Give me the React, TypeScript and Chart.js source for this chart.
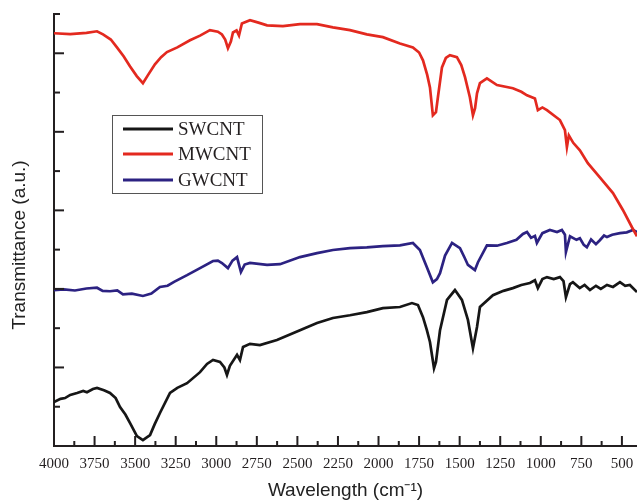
import React, { useEffect, useRef } from 'react';
import { Chart, registerables } from 'chart.js';

Chart.register(...registerables);

const xTickValues = [4000, 3750, 3500, 3250, 3000, 2750, 2500, 2250, 2000, 1750, 1500, 1250, 1000, 750, 500];
const xTickLabels = ['4000', '3750', '3500', '3250', '3000', '2750', '2500', '2250', '2000', '1750', '1500', '1250', '1000', '750', '500'];
const seriesLabels = ['SWCNT', 'MWCNT', 'GWCNT'];

const swcntWave = [4000, 3960, 3932, 3900, 3858, 3820, 3797, 3760, 3735, 3692, 3655, 3620, 3593, 3560, 3532, 3489, 3452, 3408, 3380, 3347, 3285, 3240, 3180, 3100, 3057, 3020, 2977, 2950, 2934, 2916, 2872, 2854, 2835, 2792, 2731, 2626, 2484, 2379, 2281, 2176, 2072, 1973, 1868, 1794, 1757, 1726, 1702, 1683, 1658, 1646, 1621, 1578, 1529, 1486, 1449, 1418, 1393, 1375, 1295, 1230, 1172, 1120, 1067, 1036, 1018, 990, 962, 920, 882, 860, 845, 820, 802, 760, 730, 697, 660, 630, 592, 555, 512, 480, 451, 407];
const swcntT = [1.12, 1.2, 1.22, 1.3, 1.35, 1.4, 1.37, 1.45, 1.48, 1.42, 1.35, 1.22, 0.99, 0.8, 0.59, 0.25, 0.15, 0.28, 0.55, 0.84, 1.35, 1.48, 1.6, 1.88, 2.09, 2.19, 2.14, 2.0, 1.81, 2.04, 2.32, 2.19, 2.52, 2.6, 2.57, 2.7, 2.95, 3.13, 3.26, 3.33, 3.41, 3.51, 3.54, 3.64, 3.59, 3.28, 2.95, 2.65, 1.98, 2.14, 2.95, 3.72, 3.97, 3.72, 3.21, 2.49, 3.03, 3.54, 3.84, 3.95, 4.02, 4.1, 4.15, 4.22, 4.02, 4.25, 4.3, 4.25, 4.3, 4.2, 3.79, 4.12, 4.17, 4.02, 4.1, 3.97, 4.08, 4.0, 4.1, 4.05, 4.17, 4.08, 4.1, 3.92];

const mwcntWave = [4000, 3900, 3800, 3735, 3698, 3650, 3612, 3570, 3532, 3490, 3452, 3420, 3378, 3340, 3304, 3240, 3162, 3100, 3039, 2990, 2965, 2945, 2928, 2910, 2897, 2875, 2860, 2842, 2792, 2740, 2687, 2589, 2484, 2379, 2281, 2176, 2072, 1973, 1868, 1788, 1750, 1726, 1700, 1683, 1665, 1646, 1634, 1609, 1585, 1560, 1517, 1490, 1467, 1437, 1418, 1405, 1393, 1375, 1332, 1270, 1172, 1120, 1085, 1036, 1018, 990, 962, 882, 851, 839, 827, 800, 759, 710, 636, 555, 494, 438, 407];
const mwcntT = [10.51, 10.49, 10.52, 10.56, 10.48, 10.35, 10.15, 9.92, 9.67, 9.42, 9.24, 9.45, 9.72, 9.9, 10.03, 10.15, 10.33, 10.45, 10.59, 10.55, 10.48, 10.35, 10.13, 10.3, 10.53, 10.58, 10.45, 10.76, 10.84, 10.78, 10.71, 10.69, 10.74, 10.74, 10.66, 10.59, 10.48, 10.41, 10.25, 10.15, 10.02, 9.82, 9.45, 9.13, 8.42, 8.5, 8.88, 9.64, 9.88, 9.95, 9.9, 9.7, 9.39, 8.88, 8.42, 8.6, 8.98, 9.24, 9.36, 9.19, 9.11, 9.02, 8.93, 8.85, 8.55, 8.62, 8.55, 8.3, 8.04, 7.61, 7.91, 7.72, 7.53, 7.2, 6.84, 6.44, 6.01, 5.57, 5.34];

const gwcntWave = [4000, 3940, 3871, 3800, 3735, 3700, 3655, 3610, 3575, 3520, 3452, 3400, 3347, 3300, 3260, 3180, 3100, 3020, 2990, 2965, 2928, 2900, 2872, 2848, 2825, 2792, 2687, 2607, 2484, 2379, 2281, 2176, 2072, 1973, 1868, 1788, 1745, 1702, 1665, 1640, 1621, 1590, 1547, 1498, 1470, 1449, 1406, 1387, 1332, 1270, 1209, 1150, 1110, 1085, 1060, 1036, 1024, 990, 944, 900, 870, 851, 845, 820, 780, 759, 735, 716, 690, 660, 636, 610, 592, 560, 512, 470, 432, 407];
const gwcntT = [3.97, 3.99, 3.96, 4.01, 4.03, 3.95, 3.94, 3.96, 3.86, 3.88, 3.82, 3.88, 4.05, 4.08, 4.18, 4.35, 4.53, 4.71, 4.72, 4.66, 4.53, 4.72, 4.81, 4.43, 4.62, 4.66, 4.61, 4.63, 4.81, 4.91, 4.99, 5.04, 5.06, 5.09, 5.11, 5.17, 4.99, 4.55, 4.17, 4.25, 4.4, 4.85, 5.17, 5.04, 4.8, 4.61, 4.48, 4.68, 5.11, 5.1, 5.17, 5.25, 5.4, 5.45, 5.3, 5.35, 5.17, 5.42, 5.5, 5.45, 5.5, 5.38, 4.94, 5.34, 5.25, 5.29, 5.12, 5.06, 5.26, 5.14, 5.24, 5.36, 5.32, 5.38, 5.42, 5.44, 5.5, 5.45];

const seriesColors = ['#161616', '#e3291f', '#2c2282'];
const axisColor = '#231f20';

const toPoints = (w: number[], t: number[]) => w.map((x, i) => ({ x, y: t[i] }));

const decorPlugin = {
  id: 'decor',
  afterDraw(chart: any) {
    const { ctx, scales } = chart;
    const x = scales.x;
    const y = scales.y;
    const bottom = y.getPixelForValue(0);
    const left = x.left;
    ctx.save();
    ctx.strokeStyle = axisColor;
    ctx.lineWidth = 2;
    xTickValues.forEach((v) => {
      const px = x.getPixelForValue(v);
      ctx.beginPath();
      ctx.moveTo(px, bottom);
      ctx.lineTo(px, bottom - 10);
      ctx.stroke();
      const mid = v - 125;
      if (mid >= x.min) {
        const pm = x.getPixelForValue(mid);
        ctx.beginPath();
        ctx.moveTo(pm, bottom);
        ctx.lineTo(pm, bottom - 5);
        ctx.stroke();
      }
    });
    for (let v = 1; v <= 11; v++) {
      const py = y.getPixelForValue(v);
      const len = v % 2 === 0 ? 10 : 6;
      ctx.beginPath();
      ctx.moveTo(left, py);
      ctx.lineTo(left + len, py);
      ctx.stroke();
    }
    const bx = 112, by = 115, bw = 150, bh = 78;
    ctx.lineWidth = 1;
    ctx.strokeStyle = '#555';
    ctx.strokeRect(bx + 0.5, by + 0.5, bw, bh);
    const rows = [129, 154, 180];
    ctx.font = '19px "Liberation Serif", "Times New Roman", serif';
    ctx.textBaseline = 'middle';
    ctx.textAlign = 'left';
    chart.data.datasets.forEach((ds: any, i: number) => {
      ctx.strokeStyle = ds.borderColor;
      ctx.lineWidth = 3;
      ctx.beginPath();
      ctx.moveTo(123, rows[i]);
      ctx.lineTo(173, rows[i]);
      ctx.stroke();
      ctx.fillStyle = '#231f20';
      ctx.fillText(ds.label, 178, rows[i] + 1);
    });
    ctx.translate(20, 245);
    ctx.rotate(-Math.PI / 2);
    ctx.textAlign = 'center';
    ctx.textBaseline = 'middle';
    ctx.font = '19px "Liberation Sans", Arial, sans-serif';
    ctx.fillStyle = '#222';
    ctx.fillText('Transmittance (a.u.)', 0, 0);
    ctx.restore();
  },
};

export default function App() {
  const canvasRef = useRef<HTMLCanvasElement | null>(null);

  useEffect(() => {
    if (!canvasRef.current) return;
    const mk = (i: number, w: number[], t: number[]) => ({
      label: seriesLabels[i],
      data: toPoints(w, t),
      borderColor: seriesColors[i],
      backgroundColor: seriesColors[i],
      borderWidth: 2.7,
      pointRadius: 0,
      tension: 0,
      fill: false,
    });
    const chart = new Chart(canvasRef.current, {
      type: 'line',
      data: {
        datasets: [mk(0, swcntWave, swcntT), mk(1, mwcntWave, mwcntT), mk(2, gwcntWave, gwcntT)],
      },
      options: {
        animation: false,
        responsive: true,
        maintainAspectRatio: false,
        layout: { padding: { top: 14, right: 0, left: 0, bottom: 0 } },
        plugins: { legend: { display: false }, tooltip: { enabled: false }, title: { display: false } },
        scales: {
          x: {
            type: 'linear',
            reverse: true,
            min: 407,
            max: 4000,
            afterBuildTicks: (s: any) => {
              s.ticks = xTickValues.map((value) => ({ value }));
            },
            afterFit: (s: any) => {
              s.height = 58;
              s.paddingRight = 0;
              s.paddingLeft = 0;
            },
            ticks: {
              autoSkip: false,
              maxRotation: 0,
              padding: 9,
              color: '#231f20',
              font: { family: '"Liberation Serif", "Times New Roman", serif', size: 15 },
              callback: (_v: any, i: number) => xTickLabels[i],
            },
            grid: { display: false, drawTicks: false },
            border: { display: true, color: axisColor, width: 2 },
            title: {
              display: true,
              text: 'Wavelength (cm⁻¹)',
              color: '#222',
              font: { family: '"Liberation Sans", Arial, sans-serif', size: 19 },
              padding: { top: 0, bottom: 2 },
            },
          },
          y: {
            type: 'linear',
            min: 0,
            max: 11,
            afterFit: (s: any) => {
              s.width = 54;
            },
            ticks: { display: false },
            grid: { display: false, drawTicks: false },
            border: { display: true, color: axisColor, width: 2 },
            title: { display: false },
          },
        },
      },
      plugins: [decorPlugin],
    } as any);
    return () => chart.destroy();
  }, []);

  return (
    <div style={{ position: 'fixed', left: 0, top: 0, width: 637, height: 504, background: '#fff' }}>
      <canvas ref={canvasRef} />
    </div>
  );
}
